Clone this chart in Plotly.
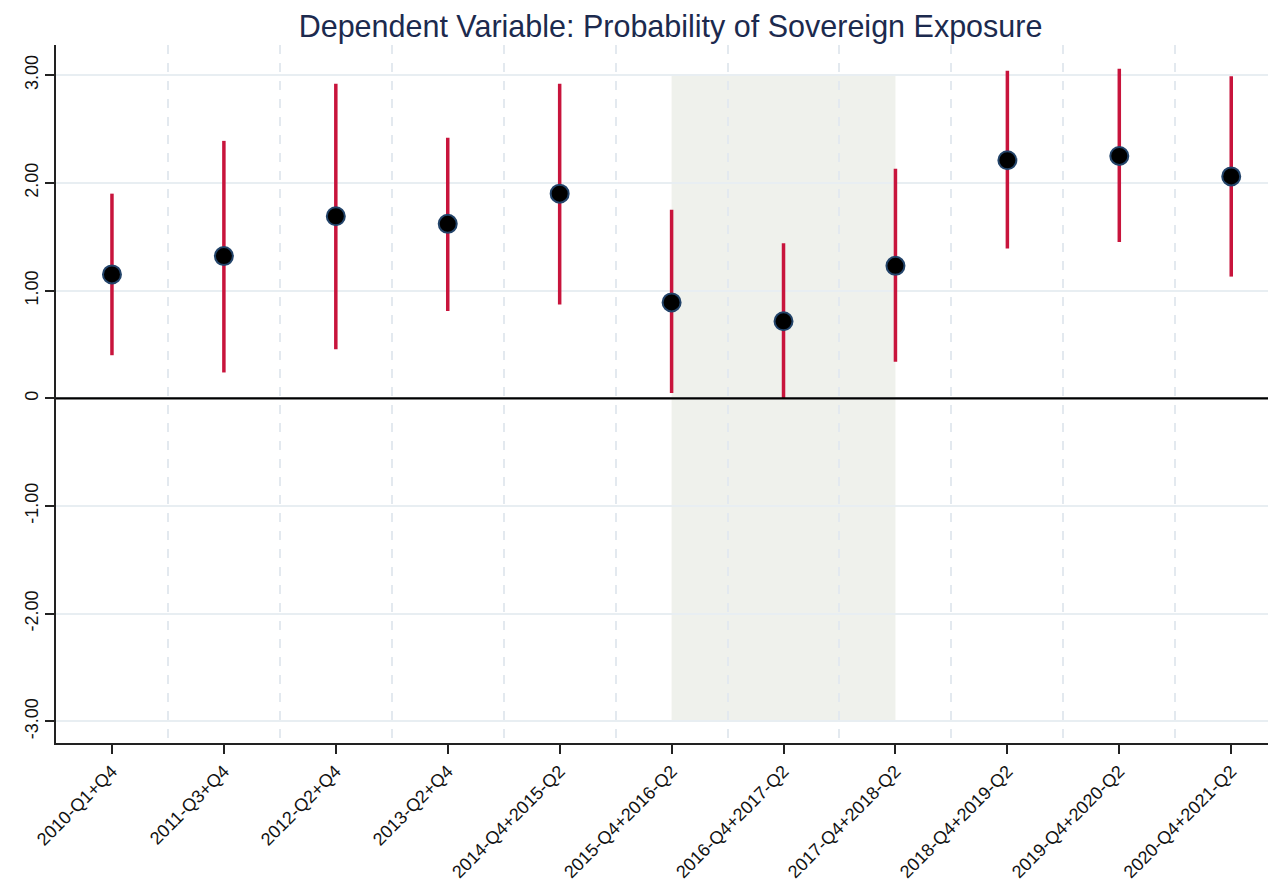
import plotly.graph_objects as go

categories = ["2010-Q1+Q4", "2011-Q3+Q4", "2012-Q2+Q4", "2013-Q2+Q4",
              "2014-Q4+2015-Q2", "2015-Q4+2016-Q2", "2016-Q4+2017-Q2",
              "2017-Q4+2018-Q2", "2018-Q4+2019-Q2", "2019-Q4+2020-Q2",
              "2020-Q4+2021-Q2"]
estimate = [1.15, 1.32, 1.69, 1.62, 1.90, 0.89, 0.715, 1.23, 2.21, 2.25, 2.06]
ci_upper = [1.90, 2.39, 2.92, 2.42, 2.92, 1.75, 1.44, 2.13, 3.04, 3.06, 2.99]
ci_lower = [0.40, 0.24, 0.455, 0.81, 0.87, 0.05, 0.0, 0.34, 1.39, 1.45, 1.13]
y_ticks = [3, 2, 1, 0, -1, -2, -3]
y_tick_labels = ["3.00", "2.00", "1.00", "0", "-1.00", "-2.00", "-3.00"]
shade_start, shade_end = 5, 7

xpos = list(range(len(categories)))
err_plus = [u - e for u, e in zip(ci_upper, estimate)]
err_minus = [e - l for e, l in zip(estimate, ci_lower)]

fig = go.Figure()
fig.add_trace(go.Scatter(
    x=xpos, y=estimate, mode="markers",
    marker=dict(size=18, color="black", line=dict(color="#23446a", width=2)),
    error_y=dict(type="data", symmetric=False, array=err_plus, arrayminus=err_minus,
                 color="#c8143c", thickness=3.5, width=0),
    showlegend=False,
))

fig.add_shape(type="rect", xref="x", yref="y", x0=shade_start, x1=shade_end,
              y0=-3, y1=3, fillcolor="#eff1ec", line=dict(width=0), layer="below")
fig.add_shape(type="line", xref="paper", yref="y", x0=0, x1=1, y0=0, y1=0,
              line=dict(color="black", width=2.2))

fig.update_layout(
    width=1268, height=881,
    margin=dict(l=48, r=0, t=37, b=146),
    paper_bgcolor="white", plot_bgcolor="white",
    font=dict(family="Liberation Sans, Arial, sans-serif", color="#111111"),
    title=dict(text="Dependent Variable: Probability of Sovereign Exposure",
               x=0.5225, xanchor="center", y=0.9796, yanchor="middle",
               font=dict(size=30.5, color="#1c2a4e")),
)
fig.update_xaxes(
    range=[-0.5, 10.4], tickmode="array", tickvals=xpos, ticktext=categories,
    tickangle=-45, tickfont=dict(size=18, color="#111111"),
    ticks="outside", ticklen=9, tickwidth=1.5, tickcolor="#222222",
    showline=True, linecolor="#222222", linewidth=1.5,
    showgrid=False, zeroline=False,
    minor=dict(tickvals=[i + 0.5 for i in xpos[:-1]], showgrid=True,
               gridcolor="#e3e9ef", griddash="dash", gridwidth=1.5, ticks=""),
)
fig.update_yaxes(
    range=[-3.2, 3.28], tickmode="array", tickvals=y_ticks, ticktext=y_tick_labels,
    tickangle=-90, tickfont=dict(size=18, color="#111111"),
    ticks="outside", ticklen=9, tickwidth=1.5, tickcolor="#222222",
    showline=True, linecolor="#222222", linewidth=1.5,
    showgrid=True, gridcolor="#e8eef2", gridwidth=1.5, zeroline=False,
)

fig.write_html("out.html")
